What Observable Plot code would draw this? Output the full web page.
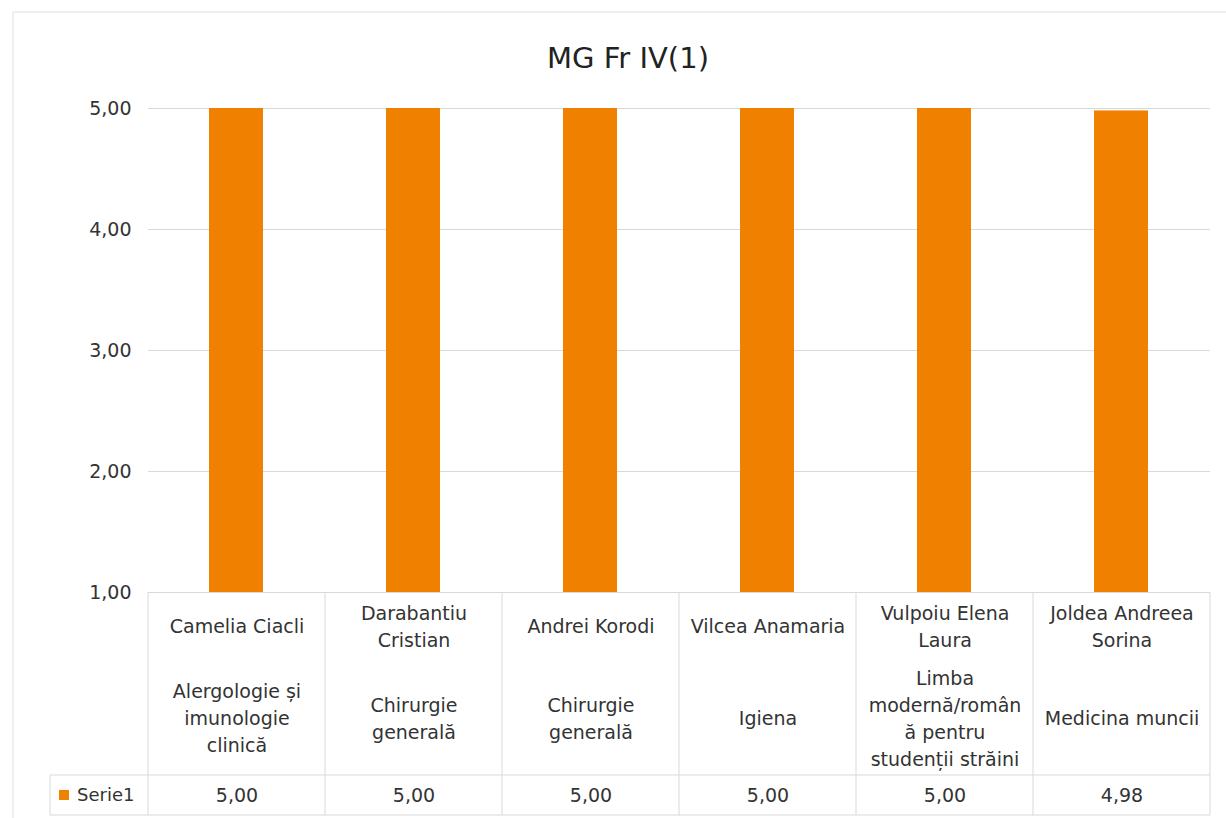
<!DOCTYPE html>
<html><head><meta charset="utf-8">
<script src="https://cdn.jsdelivr.net/npm/d3@7"></script>
<script src="https://cdn.jsdelivr.net/npm/@observablehq/plot@0.6"></script>
<style>body{margin:0;background:#fff} svg{display:block}</style>
</head><body><div id="chart"></div>
<script>
const title = "MG Fr IV(1)";
const names = ["Camelia Ciacli", "Darabantiu\nCristian", "Andrei Korodi", "Vilcea Anamaria", "Vulpoiu Elena\nLaura", "Joldea Andreea\nSorina"];
const specialties = ["Alergologie și\nimunologie\nclinică", "Chirurgie\ngenerală", "Chirurgie\ngenerală", "Igiena", "Limba\nmodernă/român\nă pentru\nstudenții străini", "Medicina muncii"];
const values = [5.00, 5.00, 5.00, 5.00, 5.00, 4.98];
const seriesName = "Serie1";
const yTicks = [1, 2, 3, 4, 5];

const data = names.map((n, i) => ({name: n, spec: specialties[i], value: values[i]}));
const fmt = v => v.toFixed(2).replace(".", ",");
const fontFamily = "'DejaVu Sans', sans-serif";
const orange = "#F08000";
const gridColor = "#d9d9d9";
const textColor = "#333333";

const chart = Plot.plot({
  width: 1226, height: 818,
  marginLeft: 148, marginRight: 16, marginTop: 108, marginBottom: 226,
  style: {fontFamily, fontSize: "19px", color: textColor, background: "white", overflow: "visible"},
  x: {domain: names, padding: 0, axis: null},
  y: {domain: [1, 5], axis: null},
  marks: [
    Plot.gridY(yTicks, {stroke: gridColor, strokeOpacity: 1}),
    Plot.axisY(yTicks, {tickSize: 0, tickPadding: 17, tickFormat: fmt, fontSize: 19, fill: "#333", label: null}),
    Plot.barY(data, {x: "name", y1: 1, y2: "value", fill: orange, insetLeft: 61, insetRight: 62}),
    Plot.text(data, {x: "name", y: 1, text: "name", dy: 32, lineAnchor: "middle", lineHeight: 1.42, fill: textColor, fontSize: 19}),
    Plot.text(data, {x: "name", y: 1, text: "spec", dy: 124, lineAnchor: "middle", lineHeight: 1.42, fill: textColor, fontSize: 19}),
    Plot.text(data, {x: "name", y: 1, text: d => fmt(d.value), dy: 203, lineAnchor: "middle", fill: textColor, fontSize: 19})
  ]
});

const svg = d3.select(chart);
const xs = chart.scale("x");
const ys = chart.scale("y");
const left = xs.range[0], right = xs.range[1], step = xs.step;
const yTop = ys.apply(1);
const yRow = yTop + 183, yBot = yTop + 223, legLeft = 50;
const g = svg.append("g").attr("stroke", gridColor).attr("fill", "none");
g.append("line").attr("x1", legLeft).attr("x2", right).attr("y1", yRow).attr("y2", yRow);
g.append("line").attr("x1", legLeft).attr("x2", right).attr("y1", yBot).attr("y2", yBot);
for (let i = 0; i <= names.length; i++) {
  const x = left + i * step;
  g.append("line").attr("x1", x).attr("x2", x).attr("y1", yTop).attr("y2", yBot);
}
g.append("line").attr("x1", legLeft).attr("x2", legLeft).attr("y1", yRow).attr("y2", yBot);
svg.append("rect").attr("x", 59).attr("y", yRow + 15).attr("width", 10).attr("height", 10).attr("fill", orange);
svg.append("text").attr("x", 77).attr("y", yRow + 20).attr("dy", "0.35em").attr("text-anchor", "start")
  .attr("font-size", 18).attr("fill", textColor).attr("font-family", fontFamily).text(seriesName);
svg.append("text").attr("x", 628).attr("y", 58).attr("dy", "0.35em").attr("text-anchor", "middle")
  .attr("font-size", 29).attr("fill", "#222").attr("font-family", fontFamily).text(title);
svg.insert("rect", ":first-child").attr("x", 13).attr("y", 12).attr("width", 1230).attr("height", 820)
  .attr("fill", "white").attr("stroke", "#e0e0e0");

document.getElementById("chart").appendChild(chart);
</script>
</body></html>
